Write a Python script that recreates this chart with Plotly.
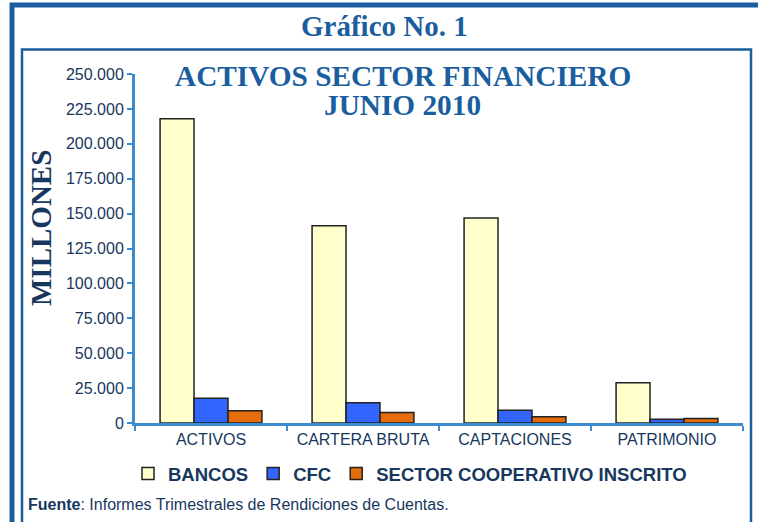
import plotly.graph_objects as go

categories = ["ACTIVOS", "CARTERA BRUTA", "CAPTACIONES", "PATRIMONIO"]
bancos = [218000, 141300, 146800, 28900]
cfc = [17700, 14500, 9100, 2600]
coop = [8800, 7600, 4500, 3300]
y_ticks = [0, 25000, 50000, 75000, 100000, 125000, 150000, 175000, 200000, 225000, 250000]

W, H = 758, 522
L, R, T, B = 135, 15, 74, 99
PW, PH = W - L - R, H - T - B

def px(x):
    return (x - L) / PW

def py(y):
    return (H - B - y) / PH

NAVY = "#17375E"
BLUE = "#1B5E9F"
AXIS = "#3C8DD0"
SANS = "Liberation Sans, Arial, sans-serif"
SERIF = "Liberation Serif, Times New Roman, serif"

fig = go.Figure()
fig.add_trace(go.Bar(name="BANCOS", x=categories, y=bancos,
                     marker=dict(color="#FFFFCC", line=dict(color="#222222", width=1.5))))
fig.add_trace(go.Bar(name="CFC", x=categories, y=cfc,
                     marker=dict(color="#3366FF", line=dict(color="#222222", width=1.5))))
fig.add_trace(go.Bar(name="SECTOR COOPERATIVO INSCRITO", x=categories, y=coop,
                     marker=dict(color="#E46C0A", line=dict(color="#222222", width=1.5))))

fig.update_layout(
    width=W, height=H, autosize=False,
    margin=dict(l=L, r=R, t=T, b=B, pad=0),
    paper_bgcolor="white", plot_bgcolor="white",
    barmode="group", bargap=0.33, bargroupgap=0,
    separators=",.",
    showlegend=True,
    legend=dict(orientation="h", x=px(128), y=py(474), xanchor="left", yanchor="middle",
                font=dict(family=SANS, size=18.5, color=NAVY, weight="bold"),
                bgcolor="rgba(0,0,0,0)", traceorder="normal", itemwidth=30),
    xaxis=dict(showline=True, linecolor=AXIS, linewidth=3, ticks="outside", tickson="boundaries",
               tickcolor=AXIS, ticklen=5, tickwidth=2, showgrid=False,
               tickfont=dict(family=SANS, size=16, color=NAVY)),
    yaxis=dict(range=[0, 250000], tickvals=y_ticks, tickformat=",d", showline=True,
               linecolor=AXIS, linewidth=3, ticks="outside", tickcolor=AXIS, ticklen=5,
               tickwidth=2, showgrid=False, zeroline=False,
               tickfont=dict(family=SANS, size=16, color=NAVY)),
)

annotations = [
    dict(text="<b>Gráfico No. 1</b>", x=px(384), y=py(26), font=dict(family=SERIF, size=29, color=BLUE)),
    dict(text="<b>ACTIVOS SECTOR FINANCIERO</b>", x=px(402.5), y=py(76), font=dict(family=SERIF, size=29.3, color=BLUE)),
    dict(text="<b>JUNIO 2010</b>", x=px(402.5), y=py(105), font=dict(family=SERIF, size=29.3, color=BLUE)),
    dict(text="<b>MILLONES</b>", x=px(41), y=py(228), textangle=-90, font=dict(family=SERIF, size=29, color=NAVY)),
]
for a in annotations:
    a.update(xref="paper", yref="paper", showarrow=False, xanchor="center", yanchor="middle")
    fig.add_annotation(**a)
fig.add_annotation(text="<b>Fuente</b>: Informes Trimestrales de Rendiciones de Cuentas.",
                   xref="paper", yref="paper", x=px(26), y=py(504), xanchor="left", yanchor="middle",
                   showarrow=False, font=dict(family=SANS, size=16, color=NAVY))

# frames
fig.add_shape(type="rect", xref="paper", yref="paper", x0=px(12), y0=py(5), x1=px(900), y1=py(700),
              line=dict(color=BLUE, width=5), fillcolor="rgba(0,0,0,0)", layer="above")
fig.add_shape(type="rect", xref="paper", yref="paper", x0=px(22), y0=py(49.5), x1=px(751), y1=py(700),
              line=dict(color=BLUE, width=2.5), fillcolor="rgba(0,0,0,0)", layer="above")

fig.write_html("out.html", config={"displayModeBar": False},
               post_script="document.body.style.margin='0';")
